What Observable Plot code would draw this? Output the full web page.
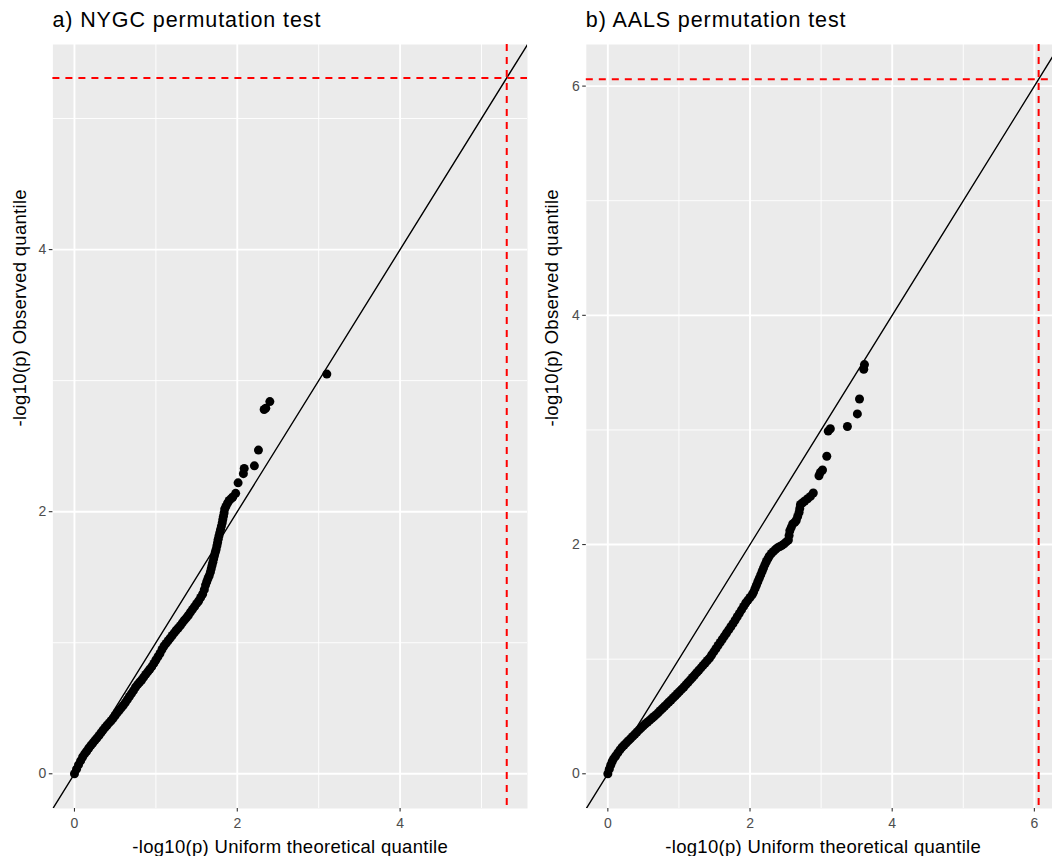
<!DOCTYPE html>
<html><head><meta charset="utf-8">
<script src="https://cdn.jsdelivr.net/npm/d3@7"></script>
<script src="https://cdn.jsdelivr.net/npm/@observablehq/plot@0.6"></script>
<style>
html,body{margin:0;padding:0;background:#fff;overflow:hidden}
#wrap{position:relative;width:1052px;height:856px;font-family:"Liberation Sans",Arial,Helvetica,sans-serif}
.panel{position:absolute;top:0}
.title{height:36px;box-sizing:border-box;padding-top:10px;font-size:21.5px;line-height:21.5px;letter-spacing:0.9px;color:#000;white-space:nowrap}
svg g[aria-label="text"] text{letter-spacing:0.3px}
</style></head><body><div id="wrap"></div>
<script>
// ---- data ----
const titles = ["a) NYGC permutation test", "b) AALS permutation test"];
const xLabel = "-log10(p) Uniform theoretical quantile";
const yLabel = "-log10(p) Observed quantile";
const thresholds = [5.31, 6.06];
const abline = {intercept: 0, slope: 1};
const majorTicksA = [0, 2, 4];
const minorTicksA = [1, 3, 5];
const majorTicksB = [0, 2, 4, 6];
const minorTicksB = [1, 3, 5];

const nygcTheo = [0.000,0.025,0.050,0.075,0.100,0.125,0.150,0.175,0.200,0.225,0.250,0.275,0.300,0.325,0.350,0.375,0.400,0.425,0.450,0.475,0.500,0.525,0.550,0.575,0.600,0.625,0.650,0.675,0.700,0.725,0.750,0.775,0.800,0.825,0.850,0.875,0.900,0.925,0.950,0.975,1.000,1.025,1.050,1.075,1.100,1.125,1.150,1.175,1.200,1.225,1.250,1.275,1.300,1.325,1.350,1.375,1.400,1.425,1.450,1.475,1.500,1.525,1.550,1.575,1.595,1.610,1.625,1.640,1.655,1.670,1.680,1.690,1.700,1.710,1.720,1.730,1.740,1.750,1.758,1.766,1.775,1.785,1.795,1.805,1.815,1.822,1.830,1.838,1.845,1.860,1.880,1.900,1.925,1.945,1.980,2.010,2.075,2.085,2.210,2.260,2.330,2.350,2.400,3.100];
const nygcObs = [0.000,0.035,0.068,0.098,0.128,0.152,0.172,0.195,0.215,0.234,0.253,0.272,0.291,0.312,0.333,0.352,0.370,0.388,0.405,0.424,0.445,0.466,0.485,0.503,0.522,0.543,0.566,0.590,0.612,0.635,0.660,0.680,0.698,0.716,0.737,0.758,0.778,0.798,0.818,0.842,0.868,0.893,0.918,0.948,0.975,0.995,1.015,1.035,1.055,1.075,1.095,1.112,1.130,1.152,1.172,1.190,1.210,1.233,1.255,1.275,1.298,1.318,1.345,1.372,1.405,1.440,1.465,1.490,1.512,1.540,1.565,1.590,1.615,1.640,1.665,1.690,1.712,1.740,1.765,1.790,1.815,1.840,1.865,1.890,1.915,1.940,1.965,1.990,2.020,2.040,2.065,2.085,2.100,2.112,2.140,2.220,2.290,2.330,2.350,2.470,2.780,2.790,2.840,3.050];

const aalsTheo = [0.00,0.02,0.04,0.06,0.08,0.11,0.14,0.17,0.20,0.23,0.26,0.29,0.32,0.35,0.38,0.41,0.44,0.47,0.50,0.53,0.56,0.59,0.62,0.65,0.68,0.71,0.74,0.77,0.80,0.83,0.86,0.89,0.92,0.95,0.98,1.01,1.04,1.07,1.10,1.13,1.16,1.19,1.22,1.25,1.28,1.31,1.34,1.37,1.40,1.43,1.46,1.49,1.52,1.55,1.58,1.61,1.64,1.67,1.70,1.73,1.76,1.79,1.82,1.85,1.88,1.91,1.94,1.97,2.00,2.03,2.05,2.07,2.09,2.11,2.13,2.15,2.17,2.19,2.21,2.23,2.25,2.27,2.30,2.33,2.36,2.39,2.42,2.45,2.48,2.51,2.54,2.55,2.56,2.58,2.60,2.63,2.65,2.67,2.69,2.70,2.71,2.74,2.77,2.81,2.85,2.89,2.97,2.99,3.02,3.08,3.10,3.13,3.37,3.51,3.54,3.60,3.61];
const aalsObs = [0.000,0.040,0.075,0.105,0.130,0.155,0.182,0.208,0.232,0.251,0.270,0.289,0.307,0.326,0.345,0.364,0.383,0.401,0.419,0.436,0.452,0.468,0.484,0.500,0.516,0.534,0.553,0.571,0.589,0.608,0.626,0.644,0.663,0.681,0.700,0.719,0.738,0.757,0.778,0.799,0.819,0.840,0.861,0.882,0.903,0.924,0.946,0.967,0.988,1.009,1.036,1.064,1.091,1.119,1.146,1.174,1.201,1.228,1.255,1.283,1.310,1.340,1.370,1.400,1.430,1.460,1.490,1.514,1.538,1.562,1.585,1.615,1.645,1.675,1.705,1.735,1.765,1.795,1.825,1.852,1.875,1.898,1.922,1.940,1.958,1.973,1.983,1.993,2.006,2.023,2.040,2.080,2.120,2.150,2.180,2.195,2.210,2.245,2.280,2.315,2.350,2.365,2.380,2.400,2.420,2.450,2.60,2.63,2.65,2.77,2.99,3.01,3.03,3.14,3.27,3.53,3.57];

// ---- layout ----
const panels = [
  {title: titles[0], theo: nygcTheo, obs: nygcObs, thr: thresholds[0], major: majorTicksA, minor: minorTicksA,
   left: 0, width: 530, ml: 52.4, mr: 3, xdom: [-0.265, 5.565], ydom: [-0.265, 5.565], lim: [-0.265, 5.565],
   xlabDx: 0, ylabDx: -32.4},
  {title: titles[1], theo: aalsTheo, obs: aalsObs, thr: thresholds[1], major: majorTicksB, minor: minorTicksB,
   left: 530, width: 522, ml: 55.8, mr: 0, xdom: [-0.303, 6.255], ydom: [-0.303, 6.363], lim: [-0.303, 6.363],
   xlabDx: 3.8, ylabDx: -33.8}
];

const wrap = document.getElementById("wrap");
for (const p of panels) {
  const div = document.createElement("div");
  div.className = "panel";
  div.style.left = p.left + "px";
  div.style.width = p.width + "px";
  const t = document.createElement("div");
  t.className = "title";
  t.style.paddingLeft = p.ml + "px";
  t.textContent = p.title;
  div.appendChild(t);

  const data = p.theo.map((v, i) => ({t: v, o: p.obs[i]}));
  const ab = p.lim.map(v => ({x: v, y: abline.intercept + abline.slope * v}));
  const grid = {stroke: "#ffffff", strokeOpacity: 1};
  const red = {stroke: "#ff0000", strokeWidth: 2, strokeDasharray: "7,6"};
  const axisStyle = {tickSize: 3.6, fontSize: 14, fill: "#4D4D4D", stroke: "#333333", strokeWidth: 1.1,
                     label: null, tickFormat: d => String(d)};

  const chart = Plot.plot({
    width: p.width, height: 820,
    marginLeft: p.ml, marginRight: p.mr, marginTop: 8, marginBottom: 48,
    x: {domain: p.xdom, label: null},
    y: {domain: p.ydom, label: null},
    style: {fontFamily: '"Liberation Sans", Arial, Helvetica, sans-serif', background: "white", overflow: "visible", color: "black"},
    marks: [
      Plot.frame({fill: "#EBEBEB", stroke: "none"}),
      Plot.gridX(p.minor, {...grid, strokeWidth: 0.9}),
      Plot.gridY(p.minor, {...grid, strokeWidth: 0.9}),
      Plot.gridX(p.major, {...grid, strokeWidth: 1.9}),
      Plot.gridY(p.major, {...grid, strokeWidth: 1.9}),
      Plot.dot(data, {x: "t", y: "o", r: 4.5, fill: "black"}),
      Plot.line(ab, {x: "x", y: "y", stroke: "black", strokeWidth: 1.4, clip: true}),
      Plot.ruleX([p.thr], red),
      Plot.ruleY([p.thr], red),
      Plot.axisX({...axisStyle, ticks: p.major, tickPadding: 6}),
      Plot.axisY({...axisStyle, ticks: p.major, tickPadding: 3}),
      Plot.text([xLabel], {text: d => d, frameAnchor: "bottom", dy: 44, dx: p.xlabDx, fontSize: 18.5, fill: "black"}),
      Plot.text([yLabel], {text: d => d, frameAnchor: "left", rotate: -90, dx: p.ylabDx, fontSize: 18.5, fill: "black"})
    ]
  });
  chart.style.display = "block";
  div.appendChild(chart);
  wrap.appendChild(div);
}
</script></body></html>
